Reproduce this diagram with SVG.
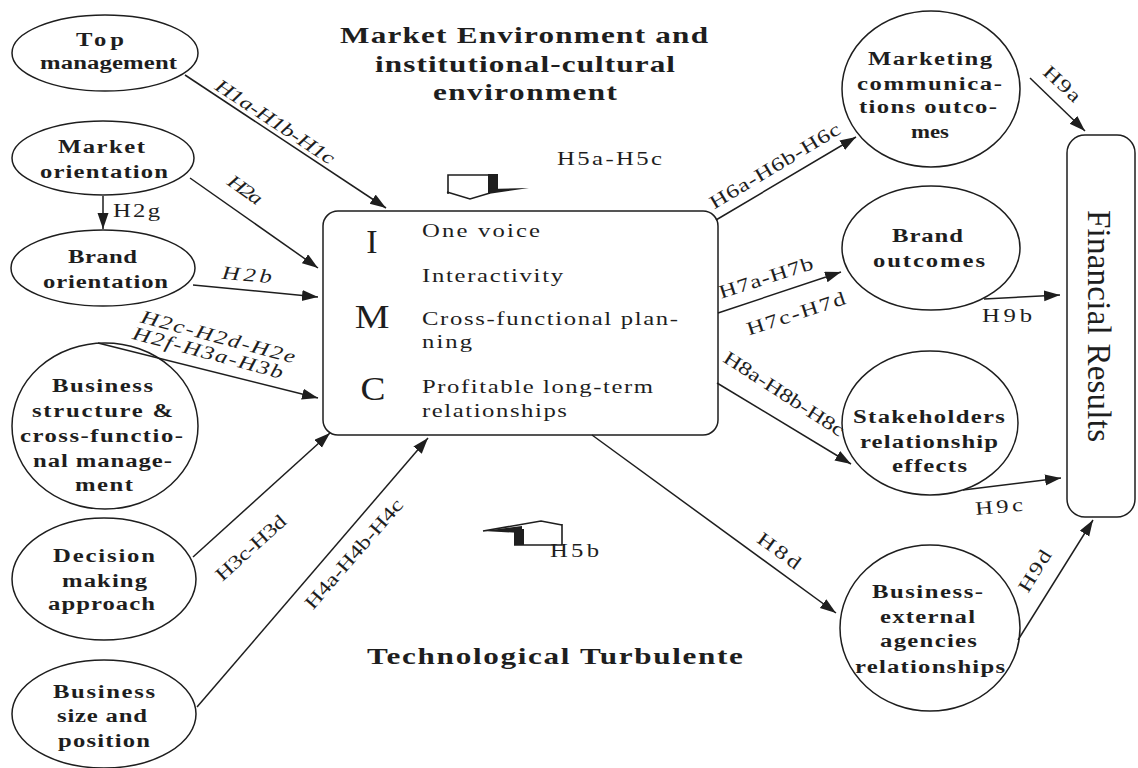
<svg xmlns="http://www.w3.org/2000/svg" width="1138" height="768" viewBox="0 0 1138 768">
  <defs>
    <marker id="ah" markerUnits="userSpaceOnUse" markerWidth="18" markerHeight="12" refX="16" refY="5.5" orient="auto">
      <path d="M0,0 L16,5.5 L0,11 Z" fill="#1e1e1e"/>
    </marker>
    <style>
      .shape { fill: #ffffff; stroke: #1e1e1e; stroke-width: 1.5; }
      .nl { font-family: "Liberation Serif", serif; font-weight: bold; font-size: 19px; fill: #1e1e1e; }
      .hd { font-family: "Liberation Serif", serif; font-weight: bold; font-size: 24px; fill: #1e1e1e; }
      .tx { font-family: "Liberation Serif", serif; font-size: 19px; fill: #1e1e1e; }
      .fr { font-family: "Liberation Serif", serif; font-size: 33px; fill: #1e1e1e; }
      .big { font-family: "Liberation Serif", serif; font-size: 34px; fill: #1e1e1e; text-anchor: middle; }
      .el { font-family: "Liberation Serif", serif; font-size: 19px; fill: #1e1e1e; }
      .rl { text-anchor: middle; }
      .it { font-style: italic; }
      .edge { stroke: #1e1e1e; stroke-width: 1.5; fill: none; marker-end: url(#ah); }
      .glyph { stroke: #1e1e1e; stroke-width: 1.6; fill: none; }
      .solid { fill: #1e1e1e; }
    </style>
  </defs>

  <rect width="1138" height="768" fill="#ffffff"/>

  <!-- context headings (type is set 1.3x wide) -->
  <g id="environment-heading">
    <text class="hd" transform="matrix(1.3,0,0,1,340,43)" textLength="283.1">Market Environment and</text>
    <text class="hd" transform="matrix(1.3,0,0,1,375,72)" textLength="230.8">institutional-cultural</text>
    <text class="hd" transform="matrix(1.3,0,0,1,433,100)" textLength="141.5">environment</text>
  </g>
  <g id="technology-heading">
    <text class="hd" transform="matrix(1.3,0,0,1,367,664)" textLength="289.2">Technological Turbulente</text>
  </g>

  <!-- moderator symbols -->
  <g id="moderator-top">
    <path class="glyph" d="M448,194 L448,175 L498,175" stroke-width="2.6"/>
    <rect class="solid" x="488" y="174" width="10" height="16"/>
    <polygon class="solid" points="488,189 529,188 488,194"/>
    <path class="glyph" d="M447,192 L470,199 L490,193"/>
    <text class="el" transform="matrix(1.3,0,0,1,557,165)" textLength="80.8">H5a-H5c</text>
  </g>
  <g id="moderator-bottom">
    <path class="glyph" d="M483,531 L541,521 L562,525"/>
    <polygon class="solid" points="483,531 522,526 522,533"/>
    <rect class="solid" x="514" y="529" width="10" height="16"/>
    <path class="glyph" d="M514,545 L562,545 L562,524" stroke-width="2"/>
    <text class="el" transform="matrix(1.3,0,0,1,550,557)" textLength="37.7">H5b</text>
  </g>

  <!-- antecedents -->
  <g id="top-management">
    <ellipse class="shape" cx="105" cy="53" rx="93" ry="38"/>
    <text class="nl" transform="matrix(1.3,0,0,1,76,46)" textLength="37">Top</text>
    <text class="nl" transform="matrix(1.3,0,0,1,40,69)" textLength="105.4">management</text>
  </g>
  <g id="market-orientation">
    <ellipse class="shape" cx="103" cy="158" rx="91" ry="37"/>
    <text class="nl" transform="matrix(1.3,0,0,1,58,153)" textLength="66.9">Market</text>
    <text class="nl" transform="matrix(1.3,0,0,1,40,178)" textLength="98.5">orientation</text>
  </g>
  <g id="brand-orientation">
    <ellipse class="shape" cx="103" cy="268" rx="92" ry="38"/>
    <text class="nl" transform="matrix(1.3,0,0,1,68,263)" textLength="53.1">Brand</text>
    <text class="nl" transform="matrix(1.3,0,0,1,43,288)" textLength="96.2">orientation</text>
  </g>
  <g id="business-structure">
    <ellipse class="shape" cx="105" cy="426" rx="93" ry="83"/>
    <text class="nl" transform="matrix(1.3,0,0,1,52,392)" textLength="77.7">Business</text>
    <text class="nl" transform="matrix(1.3,0,0,1,32,417)" textLength="108.5">structure &amp;</text>
    <text class="nl" transform="matrix(1.3,0,0,1,20,442)" textLength="125.4">cross-functio-</text>
    <text class="nl" transform="matrix(1.3,0,0,1,33,467)" textLength="106.9">nal manage-</text>
    <text class="nl" transform="matrix(1.3,0,0,1,75,491)" textLength="44.6">ment</text>
  </g>
  <g id="decision-making">
    <ellipse class="shape" cx="104" cy="579" rx="92" ry="61"/>
    <text class="nl" transform="matrix(1.3,0,0,1,53,562)" textLength="78.5">Decision</text>
    <text class="nl" transform="matrix(1.3,0,0,1,62,587)" textLength="65.4">making</text>
    <text class="nl" transform="matrix(1.3,0,0,1,48,610)" textLength="82.3">approach</text>
  </g>
  <g id="business-size">
    <ellipse class="shape" cx="104" cy="714" rx="92" ry="54"/>
    <text class="nl" transform="matrix(1.3,0,0,1,53,698)" textLength="78.5">Business</text>
    <text class="nl" transform="matrix(1.3,0,0,1,57,722)" textLength="69.2">size and</text>
    <text class="nl" transform="matrix(1.3,0,0,1,58,747)" textLength="70.8">position</text>
  </g>

  <!-- central construct -->
  <g id="imc">
    <rect class="shape" x="323" y="211" width="395" height="224" rx="15" ry="15"/>
    <text class="big" x="372" y="253">I</text>
    <text class="big" transform="matrix(1.15,0,0,1,372,328)">M</text>
    <text class="big" transform="matrix(1.1,0,0,1,373,400)">C</text>
    <text class="tx" transform="matrix(1.3,0,0,1,422,237)" textLength="90.8">One voice</text>
    <text class="tx" transform="matrix(1.3,0,0,1,422,282)" textLength="108.5">Interactivity</text>
    <text class="tx" transform="matrix(1.3,0,0,1,422,325)" textLength="196.9">Cross-functional plan-</text>
    <text class="tx" transform="matrix(1.3,0,0,1,422,348)" textLength="38.5">ning</text>
    <text class="tx" transform="matrix(1.3,0,0,1,422,393)" textLength="177.7">Profitable long-term</text>
    <text class="tx" transform="matrix(1.3,0,0,1,422,417)" textLength="111.5">relationships</text>
  </g>

  <!-- outcomes -->
  <g id="marketing-communications-outcomes">
    <ellipse class="shape" cx="931" cy="89" rx="89" ry="78"/>
    <text class="nl" transform="matrix(1.3,0,0,1,868,65)" textLength="95.4">Marketing</text>
    <text class="nl" transform="matrix(1.3,0,0,1,857,90)" textLength="111.5">communica-</text>
    <text class="nl" transform="matrix(1.3,0,0,1,859,113)" textLength="106.2">tions outco-</text>
    <text class="nl rl" transform="matrix(1.2,0,0,1,930,138)">mes</text>
  </g>
  <g id="brand-outcomes">
    <ellipse class="shape" cx="931" cy="248" rx="89" ry="62"/>
    <text class="nl" transform="matrix(1.3,0,0,1,892,242)" textLength="54.6">Brand</text>
    <text class="nl" transform="matrix(1.3,0,0,1,873,267)" textLength="86.2">outcomes</text>
  </g>
  <g id="stakeholders-relationship-effects">
    <ellipse class="shape" cx="930" cy="423" rx="88" ry="72"/>
    <text class="nl" transform="matrix(1.3,0,0,1,853,423)" textLength="116.9">Stakeholders</text>
    <text class="nl" transform="matrix(1.3,0,0,1,860,448)" textLength="106.2">relationship</text>
    <text class="nl" transform="matrix(1.3,0,0,1,892,472)" textLength="57.7">effects</text>
  </g>
  <g id="business-external-agencies">
    <ellipse class="shape" cx="930" cy="628" rx="90" ry="83"/>
    <text class="nl" transform="matrix(1.3,0,0,1,872,598)" textLength="85.4">Business-</text>
    <text class="nl" transform="matrix(1.3,0,0,1,880,623)" textLength="73.1">external</text>
    <text class="nl" transform="matrix(1.3,0,0,1,880,647)" textLength="74.6">agencies</text>
    <text class="nl" transform="matrix(1.3,0,0,1,855,673)" textLength="115.4">relationships</text>
  </g>
  <g id="financial-results">
    <rect class="shape" x="1067" y="135" width="68" height="382" rx="18" ry="18"/>
    <text class="fr" transform="translate(1088,210) rotate(90)" textLength="232">Financial Results</text>
  </g>

  <!-- connectors -->
  <g id="connectors">
    <line class="edge" x1="185" y1="75" x2="386" y2="208"/>
    <line class="edge" x1="190" y1="178" x2="318" y2="268"/>
    <line class="edge" x1="193" y1="285" x2="318" y2="297"/>
    <line class="edge" x1="103" y1="196" x2="103" y2="229"/>
    <line class="edge" x1="98" y1="343" x2="318" y2="398"/>
    <line class="edge" x1="193" y1="557" x2="330" y2="433"/>
    <line class="edge" x1="197" y1="707" x2="428" y2="438"/>
    <line class="edge" x1="716" y1="220" x2="856" y2="137"/>
    <line class="edge" x1="718" y1="313" x2="841" y2="272"/>
    <line class="edge" x1="717" y1="383" x2="851" y2="464"/>
    <line class="edge" x1="592" y1="435" x2="836" y2="613"/>
    <line class="edge" x1="984" y1="299" x2="1060" y2="295"/>
    <line class="edge" x1="963" y1="490" x2="1061" y2="478"/>
    <line class="edge" x1="1018" y1="640" x2="1093" y2="520"/>
    <line class="edge" x1="1030" y1="78" x2="1085" y2="131"/>

    <!-- hypothesis labels -->
    <text class="el it rl" dy="6" transform="translate(275,122) rotate(33.5) scale(1.3,1)" textLength="106.9">H1a-H1b-H1c</text>
    <text class="el it rl" dy="6" transform="translate(245,190) rotate(35) scale(1.3,1)" textLength="29.2">H2a</text>
    <text class="el it rl" dy="6" transform="translate(247,275) rotate(5) scale(1.3,1)" textLength="38.5">H2b</text>
    <text class="el" transform="matrix(1.3,0,0,1,113,217)" textLength="36.2">H2g</text>
    <text class="el it rl" dy="6" transform="translate(218,337) rotate(15) scale(1.3,1)" textLength="122.3">H2c-H2d-H2e</text>
    <text class="el it rl" dy="6" transform="translate(208,353) rotate(15) scale(1.3,1)" textLength="119.2">H2f-H3a-H3b</text>
    <text class="el rl" dy="6" transform="translate(251,548) rotate(-42) scale(1.3,1)" textLength="67.7">H3c-H3d</text>
    <text class="el rl" dy="6" transform="translate(354,554) rotate(-49) scale(1.3,1)" textLength="106.9">H4a-H4b-H4c</text>
    <text class="el rl" dy="6" transform="translate(775,166) rotate(-31) scale(1.3,1)" textLength="114.6">H6a-H6b-H6c</text>
    <text class="el rl" dy="6" transform="translate(766,278) rotate(-18) scale(1.3,1)" textLength="75.4">H7a-H7b</text>
    <text class="el rl" dy="6" transform="translate(796,314) rotate(-18) scale(1.3,1)" textLength="79.2">H7c-H7d</text>
    <text class="el rl" dy="6" transform="translate(784,394) rotate(33) scale(1.3,1)" textLength="107.7">H8a-H8b-H8c</text>
    <text class="el rl" dy="6" transform="translate(779,551) rotate(36) scale(1.3,1)" textLength="37.7">H8d</text>
    <text class="el rl" dy="6" transform="translate(1062,84) rotate(43) scale(1.3,1)" textLength="33.8">H9a</text>
    <text class="el" transform="matrix(1.3,0,0,1,982,322)" textLength="38.5">H9b</text>
    <text class="el rl" dy="6" transform="translate(999,507) rotate(-5) scale(1.3,1)" textLength="36.9">H9c</text>
    <text class="el rl" dy="6" transform="translate(1035,571) rotate(-58) scale(1.3,1)" textLength="35.4">H9d</text>
  </g>
</svg>
